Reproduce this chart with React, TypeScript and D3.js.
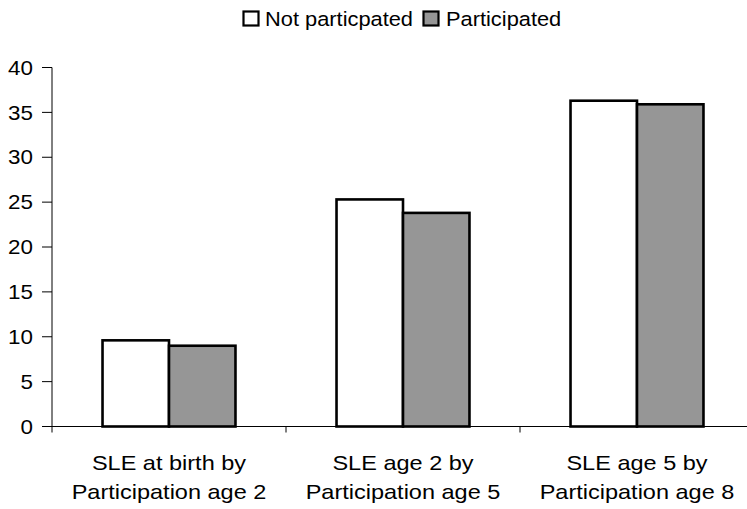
import React from "react";
import * as d3 from "d3";

const categories: string[][] = [
  ["SLE at birth by", "Participation age 2"],
  ["SLE age 2 by", "Participation age 5"],
  ["SLE age 5 by", "Participation age 8"],
];
const seriesNames = ["Not particpated", "Participated"];
const notParticipated = [9.6, 25.3, 36.3];
const participated = [9.0, 23.8, 35.9];
const yTicks = [0, 5, 10, 15, 20, 25, 30, 35, 40];
const colors = ["#ffffff", "#969696"];

const W = 747;
const H = 509;
const FONT = "'Liberation Sans', Arial, sans-serif";

export default function App() {
  const ids = categories.map((_, i) => String(i));
  const x = d3.scaleBand<string>().domain(ids).range([52, 754]).paddingInner(0).paddingOuter(0);
  const y = d3.scaleLinear().domain([0, 40]).range([426.5, 67.5]);
  const inner = d3
    .scaleBand<string>()
    .domain(["0", "1"])
    .range([0, x.bandwidth()])
    .paddingOuter(0.76)
    .paddingInner(0);
  const series = [notParticipated, participated];
  const sx = 1.12;

  return (
    <svg
      width={W}
      height={H}
      style={{ position: "absolute", left: 0, top: 0, background: "#fff" }}
      fontFamily={FONT}
    >
      {/* legend */}
      <g>
        <rect x={243.5} y={11.5} width={15} height={14} fill={colors[0]} stroke="#000" strokeWidth={2.2} />
        <text transform={`translate(265,26) scale(${sx},1)`} fontSize={19.5} fill="#000">
          {seriesNames[0]}
        </text>
        <rect x={423.5} y={11.5} width={15} height={14} fill={colors[1]} stroke="#000" strokeWidth={2.2} />
        <text transform={`translate(446,26) scale(${sx},1)`} fontSize={19.5} fill="#000">
          {seriesNames[1]}
        </text>
      </g>

      {/* y axis */}
      <line x1={52} x2={52} y1={y(40)} y2={y(0)} stroke="#000" strokeWidth={1} />
      {yTicks.map((t) => (
        <g key={t}>
          <line x1={42} x2={52} y1={y(t)} y2={y(t)} stroke="#000" strokeWidth={1} />
          <text
            transform={`translate(33,${y(t)}) scale(${sx},1)`}
            textAnchor="end"
            dy="0.36em"
            fontSize={20}
            fill="#000"
          >
            {t}
          </text>
        </g>
      ))}

      {/* bars */}
      {ids.map((id, i) => (
        <g key={id} transform={`translate(${x(id)},0)`}>
          {series.map((s, j) => (
            <rect
              key={j}
              x={inner(String(j))!}
              width={inner.bandwidth()}
              y={y(s[i])}
              height={y(0) - y(s[i])}
              fill={colors[j]}
              stroke="#000"
              strokeWidth={2.6}
            />
          ))}
        </g>
      ))}

      {/* x axis */}
      <line x1={52} x2={754} y1={y(0)} y2={y(0)} stroke="#000" strokeWidth={1} />
      {ids.map((id) => (
        <line key={"t" + id} x1={x(id)!} x2={x(id)!} y1={y(0)} y2={y(0) + 6} stroke="#000" strokeWidth={1} />
      ))}
      {categories.map((lines, i) => {
        const cx = x(String(i))! + x.bandwidth() / 2;
        return lines.map((ln, k) => (
          <text
            key={i + "-" + k}
            transform={`translate(${cx},${470 + k * 29}) scale(${sx},1)`}
            textAnchor="middle"
            fontSize={21}
            fill="#000"
          >
            {ln}
          </text>
        ));
      })}
    </svg>
  );
}
